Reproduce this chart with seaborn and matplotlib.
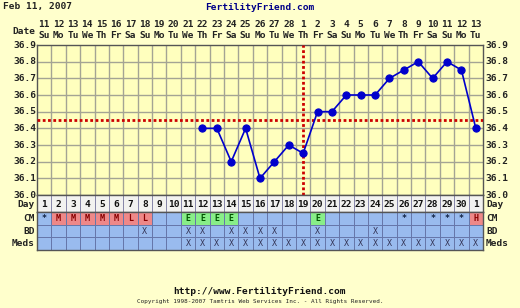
import numpy as np
import pandas as pd
import matplotlib
matplotlib.use("Agg")
import matplotlib.pyplot as plt
from matplotlib.colors import ListedColormap
import seaborn as sns

# ---------------- data ----------------
dates = ["11", "12", "13", "14", "15", "16", "17", "18", "19", "20", "21", "22", "23", "24",
         "25", "26", "27", "28", "1", "2", "3", "4", "5", "6", "7", "8", "9", "10", "11", "12", "13"]
weekdays = ["Su", "Mo", "Tu", "We", "Th", "Fr", "Sa"] * 4 + ["Su", "Mo", "Tu"]
cycle_days = [str(d) for d in range(1, 31)] + ["1"]
temps = [np.nan] * 11 + [36.4, 36.4, 36.2, 36.4, 36.1, 36.2, 36.3, 36.25, 36.5, 36.5,
                          36.6, 36.6, 36.6, 36.7, 36.75, 36.8, 36.7, 36.8, 36.75, 36.4]
coverline = 36.45
ovulation_day = 19
cm = ["*", "M", "M", "M", "M", "M", "L", "L", "", "", "E", "E", "E", "E", "", "", "", "", "",
      "E", "", "", "", "", "", "*", "", "*", "*", "*", "H"]
bd_days = [8, 11, 12, 14, 15, 16, 17, 20, 24]
meds_days = list(range(11, 32))
yticks = [36.0, 36.1, 36.2, 36.3, 36.4, 36.5, 36.6, 36.7, 36.8, 36.9]

# ---------------- style ----------------
BG = "#FFFFCC"
PLOT_BG = "#FFFFBE"
GRID = "#A4A494"
BLUE_CELL = "#99BBEE"
RED_CELL = "#EE8888"
GREEN_CELL = "#88EE88"
DAY_CELL = "#F2F2F0"
FONT = "DejaVu Sans Mono"

sns.set_theme(style="white")
plt.rcParams["font.family"] = [FONT]

W, H = 520, 308
fig = plt.figure(figsize=(W / 100, H / 100), dpi=100, facecolor=BG)

def fx(px):
    return px / W

def fy(py):
    return 1 - py / H

L, R = 37, 483
T, B = 45, 195
n = len(dates)
x = np.arange(1, n + 1)
fs = 6.8
TXT = "#222222"

# ---------------- temperature chart ----------------
ax = fig.add_axes([fx(L), fy(B), fx(R - L), (B - T) / H])
ax.set_facecolor(PLOT_BG)
df = pd.DataFrame({"day": x, "temp": temps})
sns.lineplot(data=df, x="day", y="temp", ax=ax, color="#0000CC", marker="o",
             markersize=5.2, markeredgecolor="#0000CC", linewidth=1.2, zorder=5)
ax.set_xlim(0.5, n + 0.5)
ax.set_ylim(36.0, 36.9)
for xv in np.arange(1.5, n, 1):
    ax.axvline(xv, color=GRID, lw=1, zorder=1)
for yv in yticks[1:-1]:
    ax.axhline(yv, color=GRID, lw=1, zorder=1)
ax.axhline(coverline, color="#CC0000", lw=2.0, linestyle=(0, (1.0, 0.9)), zorder=3)
ax.axvline(ovulation_day, color="#CC0000", lw=2.0, linestyle=(0, (1.0, 0.9)), zorder=3)
ax.set_xticks([])
ax.set_yticks([])
ax.set_xlabel("")
ax.set_ylabel("")
for s in ax.spines.values():
    s.set_color("#555555")
    s.set_linewidth(1)

for yv in yticks:
    ax.text(-0.002, yv, f"{yv:.1f}", transform=ax.get_yaxis_transform(), ha="right",
            va="center", fontsize=fs, fontweight="bold", color=TXT)
    ax.text(1.005, yv, f"{yv:.1f}", transform=ax.get_yaxis_transform(), ha="left",
            va="center", fontsize=fs, fontweight="bold", color=TXT)

for i in range(n):
    ax.text(x[i], 1.0 + 20 / (B - T) + 0.005, dates[i], transform=ax.get_xaxis_transform(),
            ha="center", va="center", fontsize=fs, fontweight="bold", color=TXT)
    ax.text(x[i], 1.0 + 9 / (B - T), weekdays[i], transform=ax.get_xaxis_transform(),
            ha="center", va="center", fontsize=fs, fontweight="bold", color=TXT)
fig.text(fx(35), fy(31), "Date", ha="right", va="center", fontsize=fs, fontweight="bold",
         color=TXT)

# ---------------- table: day row ----------------
dT, dB = 195, 212
dax = fig.add_axes([fx(L), fy(dB), fx(R - L), (dB - dT) / H])
sns.heatmap(np.zeros((1, n)), ax=dax, cmap=ListedColormap([DAY_CELL]), cbar=False,
            linewidths=0.7, linecolor="#8888AA", xticklabels=False, yticklabels=False)
for i in range(n):
    dax.text(i + 0.5, 0.55, cycle_days[i], ha="center", va="center",
             fontsize=fs, fontweight="bold", color="#111111")

# ---------------- table: CM / BD / Meds ----------------
tT, tB = 212, 250
tax = fig.add_axes([fx(L), fy(tB), fx(R - L), (tB - tT) / H])
codes = np.ones((3, n), dtype=int)
for i, c in enumerate(cm):
    if c in ("M", "L", "H"):
        codes[0, i] = 2
    elif c == "E":
        codes[0, i] = 3
cmap = ListedColormap([BLUE_CELL, RED_CELL, GREEN_CELL])
sns.heatmap(codes, ax=tax, cmap=cmap, vmin=0.5, vmax=3.5, cbar=False,
            linewidths=0.7, linecolor="#6677AA", xticklabels=False, yticklabels=False)
for i in range(n):
    if cm[i]:
        col = "#880000" if cm[i] in "MLH" else ("#005500" if cm[i] == "E" else "#112244")
        tax.text(i + 0.5, 0.5, cm[i], ha="center", va="center", fontsize=6,
                 fontweight="bold", color=col)
for d in bd_days:
    tax.text(d - 0.5, 1.5, "X", ha="center", va="center", fontsize=6, color="#333355")
for d in meds_days:
    tax.text(d - 0.5, 2.5, "X", ha="center", va="center", fontsize=6, color="#333355")

for a in (dax, tax):
    for s in a.spines.values():
        s.set_visible(True)
        s.set_color("#555555")
        s.set_linewidth(1)

labels = ["CM", "BD", "Meds"]
for lab, c in zip(labels, [0.5, 1.5, 2.5]):
    tax.text(-0.15, c, lab, ha="right", va="center", fontsize=fs, fontweight="bold", color=TXT)
    tax.text(n + 0.2, c, lab, ha="left", va="center", fontsize=fs, fontweight="bold", color=TXT)
dax.text(-0.15, 0.55, "Day", ha="right", va="center", fontsize=fs, fontweight="bold", color=TXT)
dax.text(n + 0.2, 0.55, "Day", ha="left", va="center", fontsize=fs, fontweight="bold", color=TXT)

# ---------------- titles ----------------
fig.text(fx(3), fy(7), "Feb 11, 2007", ha="left", va="center", fontsize=fs,
         fontweight="bold", color=TXT)
fig.text(fx(260), fy(7), "FertilityFriend.com", ha="center", va="center", fontsize=fs,
         fontweight="bold", color="#000088")
fig.text(fx(260), fy(291), "http://www.FertilityFriend.com", ha="center", va="center",
         fontsize=fs, fontweight="bold", color="#111111")
fig.text(fx(260), fy(302), "Copyright 1998-2007 Tamtris Web Services Inc. - All Rights Reserved.",
         ha="center", va="center", fontsize=4.3, color=TXT)

fig.savefig("out.png", dpi=100, facecolor=BG)
